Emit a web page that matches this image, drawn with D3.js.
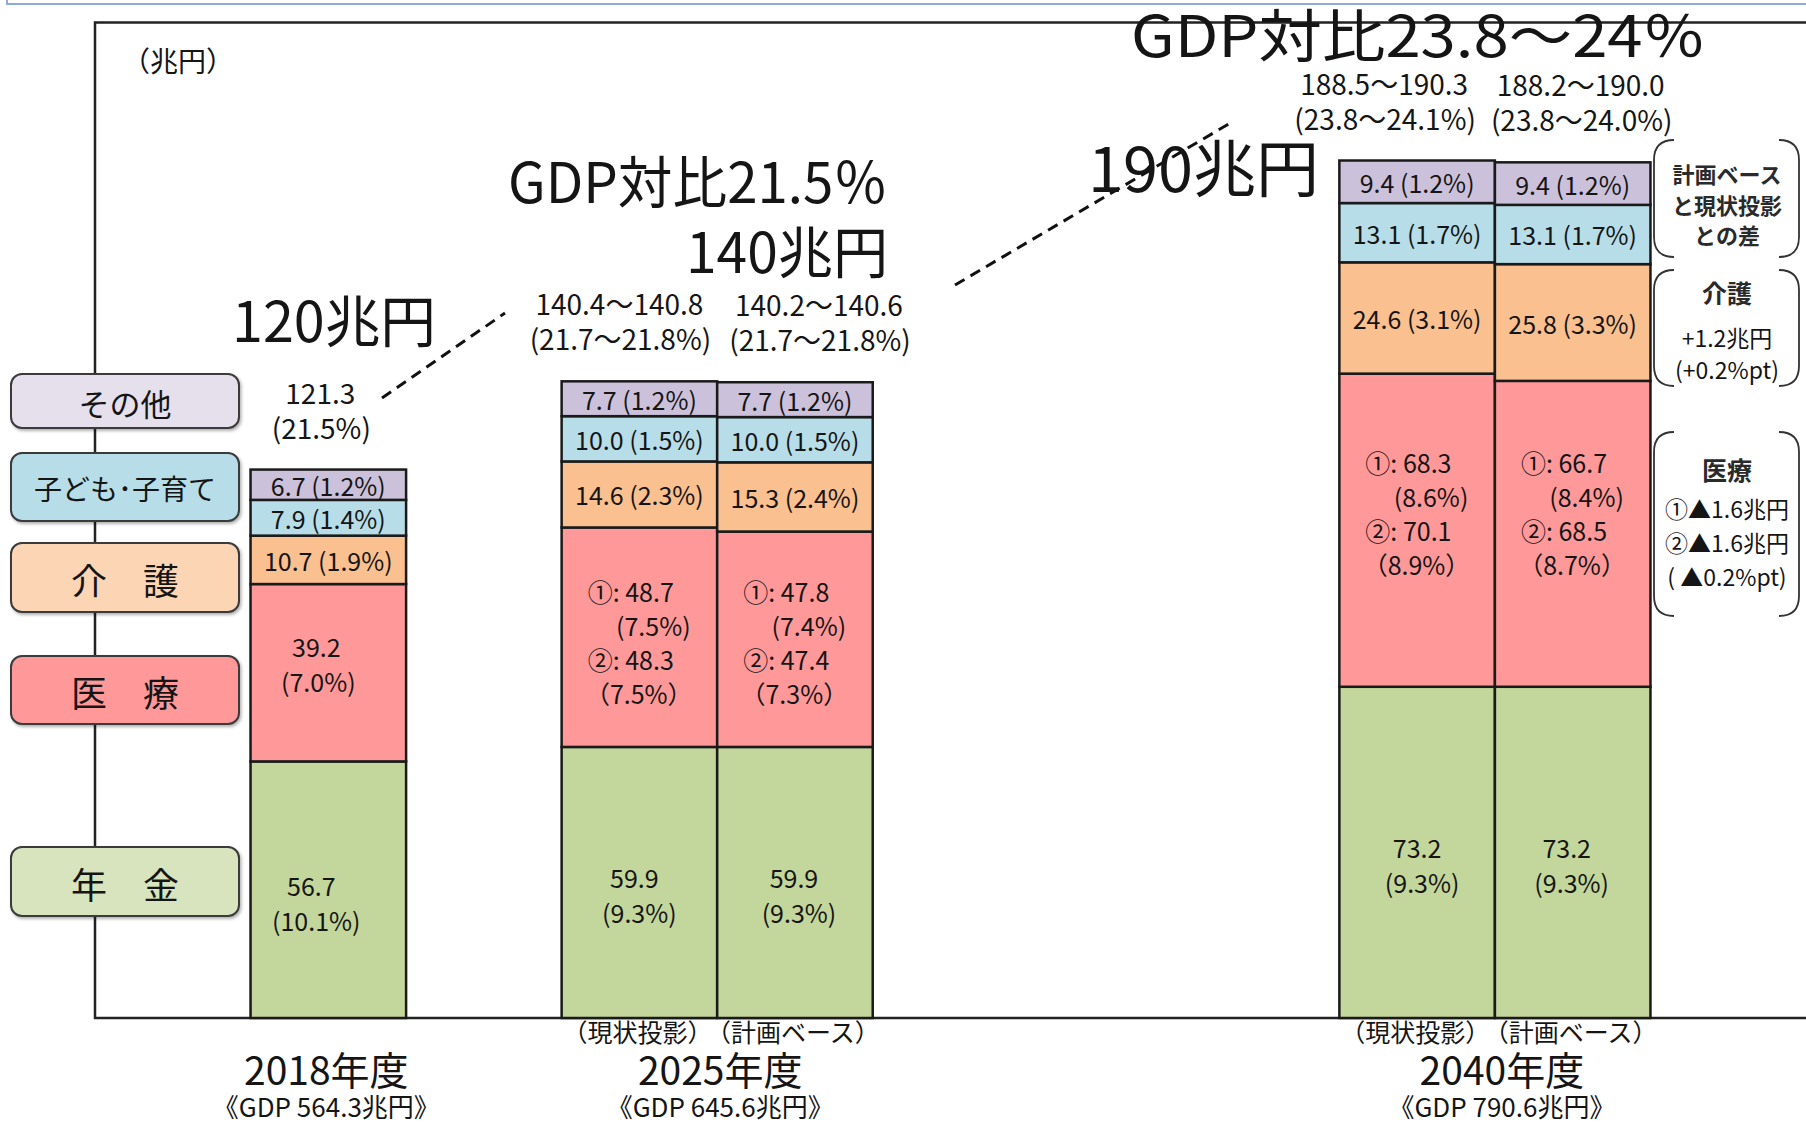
<!DOCTYPE html>
<html><head><meta charset="utf-8">
<script src="https://cdn.jsdelivr.net/npm/d3@7"></script>
<style>
html,body{margin:0;padding:0;background:#fff;}
svg{display:block;}
text{font-family:"Noto Sans CJK JP","Noto Sans",sans-serif;fill:#151515;}
</style>
</head><body>
<svg id="c" width="1806" height="1124"></svg>
<script>
// ---------- data ----------
const barKeys = ["2018", "2025現状投影", "2025計画ベース", "2040現状投影", "2040計画ベース"];
const scenarioLabels = ["", "（現状投影）", "（計画ベース）", "（現状投影）", "（計画ベース）"];
const yearLabels = ["2018年度", "2025年度", "2040年度"];
const gdpLabels = ["《GDP 564.3兆円》", "《GDP 645.6兆円》", "《GDP 790.6兆円》"];
const categories = ["年金", "医療", "介護", "子ども・子育て", "その他"];
const legendLabels = ["年　金", "医　療", "介　護", "子ども･子育て", "その他"];

const pension = [56.7, 59.9, 59.9, 73.2, 73.2];
const pensionPct = ["10.1%", "9.3%", "9.3%", "9.3%", "9.3%"];
const medical = [39.2, 48.5, 47.6, 69.2, 67.6];          // drawn bar heights
const medical2018Pct = "7.0%";
const medicalCase1 = [null, 48.7, 47.8, 68.3, 66.7];
const medicalCase1Pct = [null, "7.5%", "7.4%", "8.6%", "8.4%"];
const medicalCase2 = [null, 48.3, 47.4, 70.1, 68.5];
const medicalCase2Pct = [null, "7.5%", "7.3%", "8.9%", "8.7%"];
const care = [10.7, 14.6, 15.3, 24.6, 25.8];
const carePct = ["1.9%", "2.3%", "2.4%", "3.1%", "3.3%"];
const kids = [7.9, 10.0, 10.0, 13.1, 13.1];
const kidsPct = ["1.4%", "1.5%", "1.5%", "1.7%", "1.7%"];
const other = [6.7, 7.7, 7.7, 9.4, 9.4];
const otherPct = ["1.2%", "1.2%", "1.2%", "1.2%", "1.2%"];
const totalLabels = ["121.3", "140.4～140.8", "140.2～140.6", "188.5～190.3", "188.2～190.0"];
const totalPctLabels = ["(21.5%)", "(21.7～21.8%)", "(21.7～21.8%)", "(23.8～24.1%)", "(23.8～24.0%)"];

const headline2018 = "120兆円";
const headline2025 = ["GDP対比21.5％", "140兆円"];
const headline2040 = ["GDP対比23.8～24％", "190兆円"];
const unitLabel = "（兆円）";
const diffNotes = [
  {title: ["計画ベース", "と現状投影", "との差"], lines: []},
  {title: ["介護"], lines: ["+1.2兆円", "(+0.2%pt)"]},
  {title: ["医療"], lines: ["①▲1.6兆円", "②▲1.6兆円", "( ▲0.2%pt)"]}
];

// ---------- layout / style ----------
const W = 1806, H = 1124;
const fills = {"年金": "#C3D69B", "医療": "#FF9999", "介護": "#FAC090", "子ども・子育て": "#B7DEE8", "その他": "#CCC1DA"};
const legendFills = {"年金": "#D7E4BD", "医療": "#FF9999", "介護": "#FCD5B5", "子ども・子育て": "#B7DEE8", "その他": "#E6E0EC"};
const barSlots = [1, 3, 4, 8, 9];
const yearSlotCenters = [[1], [3, 4], [8, 9]];

const svg = d3.select("#c");
const x = d3.scaleBand().domain(d3.range(11)).range([95, 1806]).padding(0);
const y = d3.scaleLinear().domain([0, 200]).range([1018, 1018 - 200 * 4.525]);
const bw = x.bandwidth();

const defs = svg.append("defs");
const f = defs.append("filter").attr("id", "sh").attr("x", "-10%").attr("y", "-10%").attr("width", "130%").attr("height", "140%");
f.append("feDropShadow").attr("dx", 1.5).attr("dy", 2).attr("stdDeviation", 1.5).attr("flood-color", "#000").attr("flood-opacity", 0.3);

// slide border at top
svg.append("path").attr("d", "M7,0 V4 H1806").attr("fill", "none").attr("stroke", "#8FAADC").attr("stroke-width", 2);

// frame
svg.append("path").attr("d", `M${W},22.5 H95 V${y(0)} H${W}`).attr("fill", "none").attr("stroke", "#222").attr("stroke-width", 2.5);

svg.append("text").attr("x", 122).attr("y", 60).attr("dominant-baseline", "central").attr("font-size", 28).text(unitLabel);

// ---------- stacked bars ----------
const rows = barKeys.map((k, i) => ({key: k, i, "年金": pension[i], "医療": medical[i], "介護": care[i], "子ども・子育て": kids[i], "その他": other[i]}));
const stack = d3.stack().keys(categories)(rows);

const gBars = svg.append("g");
stack.forEach(layer => {
  gBars.selectAll(null).data(layer).enter().append("rect")
    .attr("x", d => x(barSlots[d.data.i]))
    .attr("width", bw)
    .attr("y", d => y(d[1]))
    .attr("height", d => y(d[0]) - y(d[1]))
    .attr("fill", fills[layer.key])
    .attr("stroke", "#1a1a1a").attr("stroke-width", 2.5);
});

const cx = i => x(barSlots[i]) + bw / 2;
const seg = (key, i) => { const l = stack.find(s => s.key === key)[i]; return {top: y(l[1]), bot: y(l[0]), mid: (y(l[1]) + y(l[0])) / 2}; };

const lbl = (xx, yy, t, size, anchor) => svg.append("text").attr("x", xx).attr("y", yy)
  .attr("text-anchor", anchor || "middle").attr("dominant-baseline", "central").attr("font-size", size).text(t);

// single-line labels: care, kids, other
[["介護", care, carePct], ["子ども・子育て", kids, kidsPct], ["その他", other, otherPct]].forEach(([k, vals, pcts]) => {
  vals.forEach((v, i) => lbl(cx(i), seg(k, i).mid, `${v.toFixed(1)} (${pcts[i]})`, 25));
});

// pension labels
const penDx = [-14, -2, 2, 3, -3];
pension.forEach((v, i) => {
  const m = seg("年金", i).mid;
  lbl(cx(i) + penDx[i] - 3, m - 5, v.toFixed(1), 25);
  lbl(cx(i) + penDx[i] + 2, m + 30, `(${pensionPct[i]})`, 25);
});

// medical labels
{
  const m0 = seg("医療", 0).mid;
  lbl(cx(0) - 12, m0 - 27, medical[0].toFixed(1), 25);
  lbl(cx(0) - 10, m0 + 8, `(${medical2018Pct})`, 25);
  const medShift = [0, -46, -48, -68, -72];
  for (let i = 1; i < medical.length; i++) {
    const m = seg("医療", i).mid + medShift[i];
    const left = x(barSlots[i]) + 26, right = x(barSlots[i]) + 129;
    lbl(left, m, `①: ${medicalCase1[i].toFixed(1)}`, 25, "start");
    lbl(right, m + 34, `(${medicalCase1Pct[i]})`, 25, "end");
    lbl(left, m + 68, `②: ${medicalCase2[i].toFixed(1)}`, 25, "start");
    lbl(right + 2, m + 102, `（${medicalCase2Pct[i]}）`, 25, "end");
  }
}

// totals above bars
const totDx = [-8, -20, 24, -33, 8];
totalLabels.forEach((t, i) => {
  const top = seg("その他", i).top;
  lbl(cx(i) + totDx[i], top - 78, t, 28);
  lbl(cx(i) + totDx[i] + 1, top - 43, totalPctLabels[i], 28);
});

// ---------- x labels ----------
scenarioLabels.forEach((t, i) => { if (t) lbl(cx(i) - 2, 1031, t, 25); });
yearLabels.forEach((t, g) => {
  const c = d3.mean(yearSlotCenters[g], s => x(s) + bw / 2) + (g === 0 ? -2 : g === 1 ? 3 : 7);
  lbl(c, 1068, t, 39);
  lbl(c, 1105, gdpLabels[g], 26);
});

// ---------- legend boxes ----------
const legendBoxes = [[847, 916, 36], [656, 724, 36], [543, 612, 36], [453, 521, 28], [374, 428, 31]];
categories.forEach((k, j) => {
  const [y0, y1, fs] = legendBoxes[j];
  svg.append("rect").attr("x", 11).attr("y", y0).attr("width", 228).attr("height", y1 - y0)
    .attr("rx", 11).attr("fill", legendFills[k]).attr("stroke", "#3a3a3a").attr("stroke-width", 2).attr("filter", "url(#sh)");
  lbl(125, (y0 + y1) / 2 + 1, legendLabels[j], fs);
});

// ---------- headlines & dashed connectors ----------
const big = (xx, yy, t, size, len, anchor) => svg.append("text").attr("x", xx).attr("y", yy).attr("font-size", size)
  .attr("text-anchor", anchor || "start").attr("textLength", len).attr("lengthAdjust", "spacingAndGlyphs").text(t);
const dash = (x1, y1, x2, y2) => svg.append("line").attr("x1", x1).attr("y1", y1).attr("x2", x2).attr("y2", y2)
  .attr("stroke", "#111").attr("stroke-width", 3).attr("stroke-dasharray", "11,7");

big(232, 342, headline2018, 56, 204);
big(508, 203, headline2025[0], 56, 380);
big(888, 273, headline2025[1], 56, 202, "end");
big(1131, 57, headline2040[0], 57, 575);
dash(382, 398, 505, 313);
dash(955, 285, 1232, 122);
big(1088, 192, headline2040[1], 62, 231);

// ---------- difference notes with brackets ----------
const brackets = [[140, 257], [270, 386], [432, 616]];
const bx0 = 1654, bx1 = 1799, r = 20;
brackets.forEach(([t, b]) => {
  svg.append("path").attr("fill", "none").attr("stroke", "#333").attr("stroke-width", 1.8)
    .attr("d", `M${bx0 + r},${t} Q${bx0},${t} ${bx0},${t + r} V${b - r} Q${bx0},${b} ${bx0 + r},${b}`);
  svg.append("path").attr("fill", "none").attr("stroke", "#333").attr("stroke-width", 1.8)
    .attr("d", `M${bx1 - r},${t} Q${bx1},${t} ${bx1},${t + r} V${b - r} Q${bx1},${b} ${bx1 - r},${b}`);
});
const noteX = 1727;
[[173, 204, 234], [292], [469]].forEach((ys, n) => {
  diffNotes[n].title.forEach((t, k) => lbl(noteX, ys[k], t, n === 0 ? 22 : 25).attr("font-weight", "bold").style("fill", "#2a2a2a"));
});
[[337, 369], [508, 542, 576]].forEach((ys, n) => {
  diffNotes[n + 1].lines.forEach((t, k) => lbl(noteX, ys[k], t, 23));
});
</script>
</body></html>
